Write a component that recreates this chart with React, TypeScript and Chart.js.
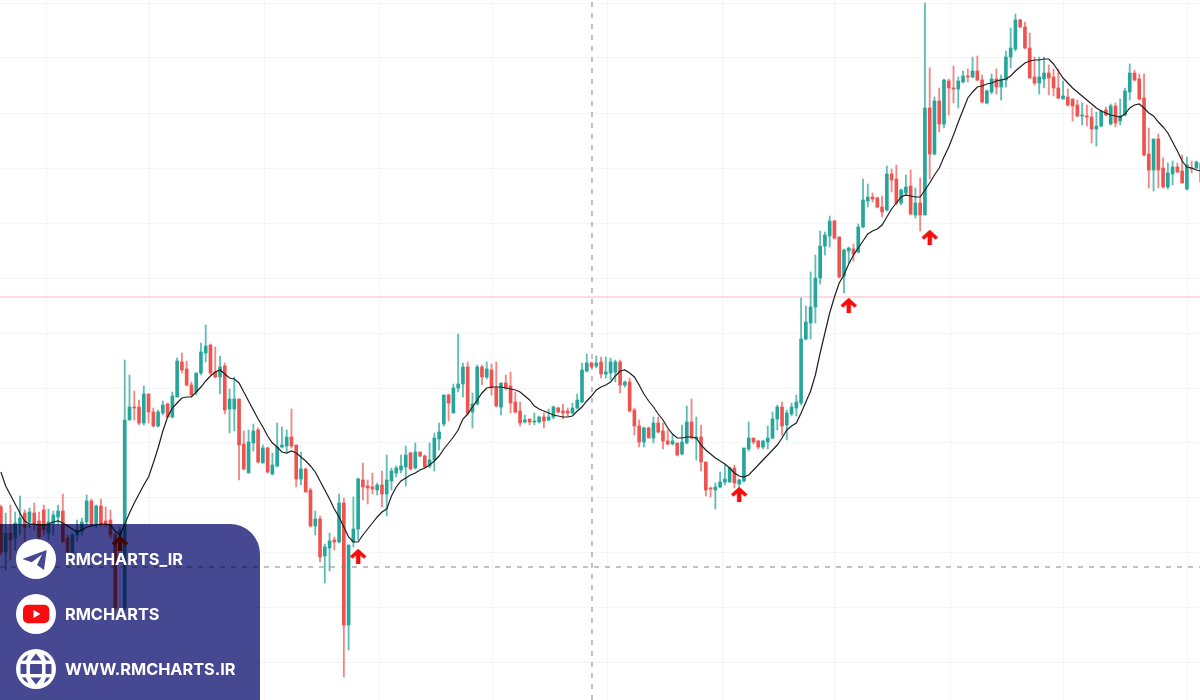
import { useEffect, useRef } from "react";
import { Chart, registerables } from "chart.js";

Chart.register(...registerables);

const opens = [
  193,148,167,162,175,187,178,187,179,190,167,176,183,189,162,147,165,169,178,199,176,194,179,180,165,162,
  92,280,293,293,277,306,288,274,287,296,283,303,338,331,315,308,327,347,355,328,323,334,291,291,
  301,256,227,257,270,237,252,226,234,253,254,263,255,221,231,210,174,181,144,152,160,158,197,75,158,171,
  220,214,213,210,215,206,219,227,230,233,247,232,248,244,234,240,261,276,305,287,312,316,333,288,296,333,
  323,330,312,293,317,314,298,289,278,281,278,278,283,280,283,292,289,289,287,292,298,329,337,334,338,326,
  327,328,338,315,318,290,274,258,272,262,277,269,259,256,257,246,257,278,261,263,238,212,210,213,218,218,
  232,216,219,251,262,259,253,258,262,281,293,275,286,292,297,361,377,393,422,454,464,479,463,424,449,451,
  448,473,499,503,502,493,490,526,521,497,507,514,485,497,485,592,546,599,576,619,612,611,618,624,623,629,
  620,597,608,621,613,620,643,651,680,673,652,623,617,621,627,623,612,601,603,601,595,584,584,583,571,574,
  590,576,594,579,585,608,627,621,602,546,530,561,532,513,526,533,529,511,532,532,537,
];
const highs = [
  195,187,195,188,204,190,192,197,188,195,191,189,195,206,165,167,180,182,205,201,195,201,193,190,167,173,
  340,325,309,300,314,306,292,290,299,297,308,342,347,339,318,327,357,375,356,353,344,337,311,323,
  301,269,270,276,272,255,253,247,277,273,270,291,255,248,232,212,189,184,156,167,163,206,202,155,203,222,
  237,220,227,217,229,245,232,234,245,254,248,257,248,245,257,267,277,305,306,316,366,337,338,307,335,335,
  338,336,338,317,325,328,308,298,285,281,287,284,287,291,294,293,296,292,297,306,337,346,338,344,343,343,
  342,340,340,319,322,292,280,273,273,283,283,277,270,265,257,275,294,301,283,275,238,213,217,228,235,233,
  235,221,252,278,262,260,260,274,288,295,298,290,297,305,402,394,428,445,469,468,484,480,463,451,453,456,
  476,521,516,507,503,504,534,531,535,511,525,530,512,522,697,632,603,612,621,621,634,623,629,631,643,644,
  625,610,626,631,625,649,672,686,681,678,667,643,643,643,635,631,631,619,611,601,600,597,595,592,588,590,
  593,596,597,601,612,636,630,626,626,572,561,566,542,537,539,537,545,543,539,539,537,
];
const lows = [
  145,130,140,150,165,155,172,170,160,165,160,165,175,158,148,140,159,165,175,174,172,174,173,162,90,158,
  90,280,280,275,275,277,273,273,285,283,282,303,327,314,304,305,325,338,325,322,306,286,267,269,
  220,230,227,249,237,237,227,225,233,252,248,252,213,215,208,173,165,138,117,129,150,157,23,50,153,160,
  200,196,206,205,193,184,210,223,227,214,230,231,243,232,232,229,250,274,279,287,308,303,285,272,295,315,
  321,305,293,285,310,287,287,274,277,275,275,277,272,279,281,287,281,284,286,291,297,328,332,332,322,322,
  320,318,307,313,288,265,253,253,262,257,267,251,255,255,244,245,256,261,240,229,204,203,191,212,215,218,
  212,213,218,249,256,251,251,251,261,270,265,260,284,284,295,360,361,377,416,445,453,461,422,407,437,439,
  447,472,493,498,492,483,489,508,495,495,505,485,482,469,485,521,545,568,572,585,597,592,617,618,622,619,
  597,596,606,606,600,613,632,649,672,651,622,615,606,612,605,604,601,601,594,579,583,575,574,557,554,573,
  584,575,573,575,584,600,619,600,544,512,509,512,512,511,515,527,517,510,527,531,518,
];
const closes = [
  148,167,160,177,182,173,188,176,163,170,178,185,189,158,148,165,170,178,199,176,194,176,176,165,92,170,
  280,293,292,277,306,288,274,288,295,283,304,339,330,315,305,327,348,354,327,323,333,290,301,301,
  255,231,258,269,238,252,228,235,253,255,263,254,221,231,208,174,181,143,153,159,158,197,75,155,171,221,
  213,212,211,215,206,220,229,232,234,245,231,248,244,233,240,262,268,305,297,312,316,333,287,296,333,323,
  331,312,294,317,312,297,288,277,280,278,279,283,279,283,293,288,287,287,292,300,330,337,333,337,326,328,
  338,338,315,318,289,274,258,272,262,277,268,259,256,259,245,258,278,262,263,238,210,211,213,218,221,232,
  217,220,252,262,258,253,259,262,281,293,274,287,293,298,361,378,393,422,454,465,479,462,423,450,452,446,
  473,500,503,501,493,488,526,520,497,510,513,486,497,485,592,546,599,576,620,612,611,619,624,623,629,620,
  598,609,621,613,621,643,652,680,673,652,622,617,623,627,622,612,602,604,595,594,584,585,583,571,574,589,
  585,594,577,584,609,627,620,601,545,530,561,530,513,527,533,528,517,535,531,538,518,
];
const maValues = [
  228,214,205,196,187,179,176,176,175,175,176,178,179,177,174,171,168,170,173,174,175,176,176,175,169,165,
  176,187,197,206,215,223,237,252,269,283,292,297,302,303,303,308,313,319,324,328,330,326,322,321,
  317,308,299,290,281,273,264,257,253,248,247,249,247,243,239,234,228,219,210,201,191,183,173,163,158,158,
  165,171,177,183,188,191,204,213,219,222,225,227,230,232,235,239,244,251,257,263,270,281,286,293,300,307,
  312,313,313,313,312,311,310,308,304,300,294,291,289,287,285,284,283,283,284,289,293,299,304,310,313,315,
  318,324,329,330,327,323,315,306,299,293,286,280,272,266,262,262,263,263,262,255,250,246,242,239,236,232,
  227,224,223,225,230,235,240,245,250,255,262,270,274,277,287,298,309,325,347,367,387,403,417,425,436,445,
  452,459,466,469,471,475,483,491,497,503,505,504,503,503,510,517,525,532,543,553,565,578,590,602,608,613,
  614,616,617,619,620,621,624,629,633,637,639,640,640,641,641,636,629,622,617,612,608,604,600,596,592,589,
  587,585,584,583,586,592,595,596,592,587,584,578,573,567,558,549,539,533,532,530,529,
];

// faint chart grid
const gridPrices = [38,93,148,203,258,312,367,422,477,532,587,642,697];
const gridSlots = [9.6,31.3,55.4,79.4,103.3,127.3,151.6,175.1,199.3,223,249.2];
const signalSlots = [25,75,155,178,195];
const signalPrices = [157,144,206,395,463];
const levelPrice = 403;
const crossSlot = 124.1;
const crossPrice = 133;
const socialLabels = ["RMCHARTS_IR", "RMCHARTS", "WWW.RMCHARTS.IR"];

const UP = "#26a69a";
const DOWN = "#ef5350";
const UP_WICK = "#5fbfb5";
const DOWN_WICK = "#f28784";
const PANEL = "#464892";

const makeArrow = () => {
  const c = document.createElement("canvas");
  c.width = 18;
  c.height = 16;
  const g = c.getContext("2d");
  if (g) {
    g.strokeStyle = "#f70b0b";
    g.lineWidth = 3.6;
    g.lineJoin = "miter";
    g.beginPath();
    g.moveTo(2, 9.5);
    g.lineTo(9, 3.2);
    g.lineTo(16, 9.5);
    g.stroke();
    g.lineWidth = 4.4;
    g.beginPath();
    g.moveTo(9, 3.5);
    g.lineTo(9, 16);
    g.stroke();
  }
  return c;
};

const TelegramIcon = () => (
  <svg width="40" height="40" viewBox="0 0 40 40">
    <circle cx="20" cy="20" r="20" fill="#fff" />
    <path d="M6.3 20 30.7 11 28 31 21 26 26 15.5 15.7 23.3Z" fill={PANEL} />
  </svg>
);

const YoutubeIcon = () => (
  <svg width="40" height="40" viewBox="0 0 40 40">
    <circle cx="20" cy="20" r="20" fill="#fff" />
    <rect x="7" y="10.7" width="26.3" height="18.6" rx="5" fill="#f70d0d" />
    <path d="M17.5 16 24.5 20 17.5 24Z" fill="#fff" />
  </svg>
);

const GlobeIcon = () => (
  <svg width="40" height="40" viewBox="0 0 40 40">
    <circle cx="20" cy="20" r="20" fill="#fff" />
    <g fill={PANEL}>
      <rect x="4.5" y="15" width="6" height="10" rx="1" />
      <rect x="14" y="15" width="12" height="10" rx="1" />
      <rect x="29.5" y="15" width="6" height="10" rx="1" />
      <path d="M20 4.5 25.5 11.5H14.5Z" />
      <path d="M20 35.5 25.5 28.5H14.5Z" />
      <path d="M12.5 5.5 9.8 11.5H5.8Q8.3 7.6 12.5 5.5Z" />
      <path d="M27.5 5.5 30.2 11.5H34.2Q31.7 7.6 27.5 5.5Z" />
      <path d="M12.5 34.5 9.8 28.5H5.8Q8.3 32.4 12.5 34.5Z" />
      <path d="M27.5 34.5 30.2 28.5H34.2Q31.7 32.4 27.5 34.5Z" />
    </g>
  </svg>
);

const icons = [<TelegramIcon />, <YoutubeIcon />, <GlobeIcon />];

const App = () => {
  const canvasRef = useRef<HTMLCanvasElement | null>(null);

  useEffect(() => {
    if (!canvasRef.current) return;

    const slots = opens.map((_, i) => i);
    const isUp = (i: number) => closes[i] >= opens[i];
    const xMin = -0.19;
    const xMax = 251.75;

    const chart = new Chart(canvasRef.current, {
      type: "bar",
      data: {
        datasets: [
          {
            label: "level",
            type: "line",
            data: [{ x: xMin, y: levelPrice }, { x: xMax, y: levelPrice }],
            borderColor: "#f9d0d3",
            borderWidth: 1.5,
            pointRadius: 0,
            order: 5,
          },
          {
            label: "wicks",
            data: slots.map((i) => ({ x: i, y: [lows[i], highs[i]] })),
            backgroundColor: slots.map((i) => (isUp(i) ? UP_WICK : DOWN_WICK)),
            barThickness: 1.2,
            grouped: false,
            order: 4,
          },
          {
            label: "bodies",
            data: slots.map((i) => ({ x: i, y: [Math.min(opens[i], closes[i]), Math.max(opens[i], closes[i])] })),
            backgroundColor: slots.map((i) => (isUp(i) ? UP : DOWN)),
            barThickness: 3,
            grouped: false,
            order: 3,
          },
          {
            label: "cross h",
            type: "line",
            data: [{ x: xMin, y: crossPrice }, { x: xMax, y: crossPrice }],
            borderColor: "#858585",
            borderWidth: 1,
            borderDash: [5, 6],
            pointRadius: 0,
            order: 2,
          },
          {
            label: "cross v",
            type: "line",
            data: [{ x: crossSlot, y: 0 }, { x: crossSlot, y: 700 }],
            borderColor: "#858585",
            borderWidth: 1,
            borderDash: [5, 6],
            pointRadius: 0,
            order: 2,
          },
          {
            label: "ma",
            type: "line",
            data: slots.map((i) => ({ x: i, y: maValues[i] })),
            borderColor: "#1f1f1f",
            borderWidth: 1.2,
            pointRadius: 0,
            tension: 0,
            order: 1,
          },
          {
            label: "signals",
            type: "line",
            data: signalSlots.map((s, i) => ({ x: s, y: signalPrices[i] })),
            showLine: false,
            pointStyle: makeArrow(),
            order: 0,
          },
        ],
      } as any,
      options: {
        responsive: false,
        animation: false,
        layout: { padding: 0, autoPadding: false },
        plugins: {
          legend: { display: false },
          tooltip: { enabled: false },
        },
        scales: {
          x: {
            type: "linear",
            min: xMin,
            max: xMax,
            offset: false,
            afterBuildTicks: (axis: any) => {
              axis.ticks = gridSlots.map((value) => ({ value }));
            },
            ticks: { display: false },
            border: { display: false },
            grid: { color: "#f3f5f7", drawTicks: false, offset: false },
          },
          y: {
            min: 0,
            max: 700,
            afterBuildTicks: (axis: any) => {
              axis.ticks = gridPrices.map((value) => ({ value }));
            },
            ticks: { display: false },
            border: { display: false },
            grid: { color: "#f3f5f7", drawTicks: false },
          },
        },
      } as any,
    });

    return () => {
      chart.destroy();
    };
  }, []);

  return (
    <div style={{ position: "fixed", left: 0, top: 0, width: 1200, height: 700, background: "#fff", overflow: "hidden" }}>
      <canvas ref={canvasRef} width={1200} height={700} style={{ display: "block" }} />
      <div
        style={{
          position: "absolute",
          left: 0,
          top: 524,
          width: 260,
          height: 176,
          background: PANEL,
          borderTopRightRadius: 30,
          mixBlendMode: "multiply",
        }}
      />
      {socialLabels.map((label, i) => (
        <div key={label} style={{ position: "absolute", left: 16, top: 539 + i * 55, height: 40, display: "flex", alignItems: "center" }}>
          {icons[i]}
          <span style={{ marginLeft: 9, color: "#fff", fontFamily: "Inter", fontWeight: 700, fontSize: 16.3, whiteSpace: "nowrap" }}>
            {label}
          </span>
        </div>
      ))}
    </div>
  );
};

export default App;
